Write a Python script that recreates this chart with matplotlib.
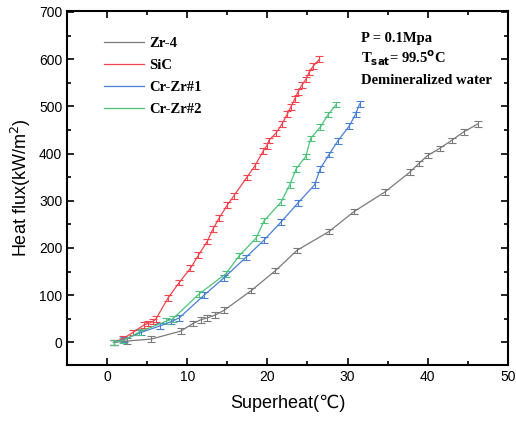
import matplotlib
matplotlib.use('Agg')
import matplotlib.pyplot as plt
from matplotlib.ticker import MultipleLocator

# data
zr4_x = [0.8, 2.5, 5.5, 9.2, 10.7, 11.7, 12.5, 13.5, 14.6, 18.0, 21.0, 23.7, 27.7, 30.8, 34.7, 37.8, 38.9, 40.0, 41.5, 43.0, 44.5, 46.3]
zr4_y = [0, 3, 7, 24, 40, 48, 52, 58, 68, 110, 152, 195, 235, 277, 319, 361, 379, 396, 411, 428, 446, 463]

sic_x = [0.8, 2.0, 3.2, 4.6, 5.1, 5.7, 6.1, 7.6, 9.0, 10.4, 11.4, 12.5, 13.2, 14.0, 15.0, 15.8, 17.4, 18.4, 19.5, 19.9, 20.2, 21.1, 21.8, 22.5, 22.9, 23.4, 23.8, 24.3, 24.8, 25.2, 25.7, 26.5]
sic_y = [0, 8, 21, 37, 40, 44, 50, 94, 127, 157, 185, 214, 240, 264, 291, 310, 349, 373, 406, 416, 428, 444, 462, 484, 498, 515, 530, 545, 557, 572, 585, 600]

crzr1_x = [0.8, 2.1, 4.2, 6.6, 8.0, 9.0, 12.1, 14.6, 17.3, 19.6, 21.7, 23.8, 25.9, 26.6, 27.7, 28.8, 30.2, 31.0, 31.5]
crzr1_y = [0, 6, 21, 35, 44, 52, 100, 137, 180, 217, 255, 295, 334, 368, 398, 427, 458, 483, 505]

crzr2_x = [0.8, 2.0, 4.0, 7.4, 8.2, 11.5, 14.8, 16.5, 18.6, 19.6, 21.7, 22.8, 23.6, 24.8, 25.4, 26.6, 27.6, 28.6]
crzr2_y = [0, 4, 22, 45, 50, 103, 145, 184, 221, 258, 297, 334, 368, 394, 432, 456, 483, 504]

yerr = 6

series = [
    ('Zr-4', zr4_x, zr4_y, '#7a7a7a'),
    ('SiC', sic_x, sic_y, '#f2454f'),
    ('Cr-Zr#1', crzr1_x, crzr1_y, '#4a7fd6'),
    ('Cr-Zr#2', crzr2_x, crzr2_y, '#4fc37c'),
]

fig = plt.figure(figsize=(5.16, 4.24), dpi=100)
ax = fig.add_axes([0.130, 0.139, 0.854, 0.835])

for lbl, xx, yy, cc in series:
    ax.errorbar(xx, yy, yerr=yerr, color=cc, lw=0.9, elinewidth=0.8,
                capsize=3, capthick=0.8, label=lbl)

ax.set_xlim(-5, 50)
ax.set_ylim(-48, 702)
ax.xaxis.set_major_locator(MultipleLocator(10))
ax.xaxis.set_minor_locator(MultipleLocator(5))
ax.yaxis.set_major_locator(MultipleLocator(100))
ax.yaxis.set_minor_locator(MultipleLocator(50))
ax.tick_params(which='both', direction='in', top=True, right=True, width=1.2)
ax.tick_params(which='major', length=5, labelsize=10)
ax.tick_params(which='minor', length=3)
for lab in ax.get_xticklabels() + ax.get_yticklabels():
    lab.set_fontfamily('Liberation Sans')
for sp in ax.spines.values():
    sp.set_linewidth(1.5)

fam = ['Liberation Sans', 'DejaVu Sans']
ax.set_xlabel('Superheat(℃)', fontsize=13, family=fam, labelpad=8)
ax.set_ylabel('Heat flux(kW/m$^2$)', fontsize=13, family=fam, labelpad=4)

# legend (just the lines, no error markers)
hh, ll = ax.get_legend_handles_labels()
hh = [h[0] for h in hh]
ax.legend(hh, ll, loc='upper left', bbox_to_anchor=(0.055, 0.965), frameon=False,
          prop={'family': 'Liberation Serif', 'weight': 'bold', 'size': 10.5},
          handlelength=2.7, handletextpad=0.4, labelspacing=0.6)

tkw = dict(transform=ax.transAxes, family='Liberation Serif', fontweight='bold',
           fontsize=10.5, va='center', ha='left')
ax.text(0.667, 0.921, 'P = 0.1Mpa', **tkw)
ax.text(0.667, 0.867, 'T$_{\\mathbf{sat}}$= 99.5$^{\\mathbf{o}}$C', **tkw)
ax.text(0.667, 0.805, 'Demineralized water', **tkw)

fig.savefig('out.png', dpi=100)
